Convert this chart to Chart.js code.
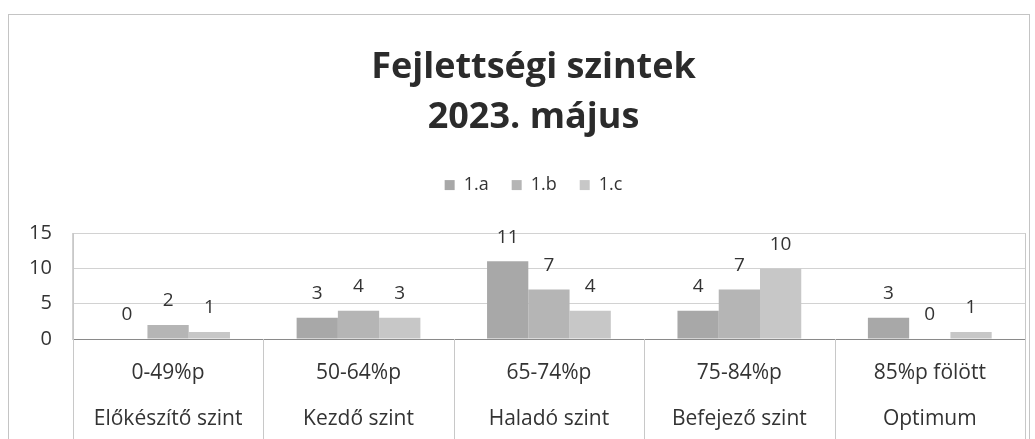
<!DOCTYPE html>
<html>
<head>
<meta charset="utf-8">
<script src="https://cdn.jsdelivr.net/npm/chart.js@4.4.0/dist/chart.umd.min.js"></script>
<style>
  html, body { margin: 0; padding: 0; background: #fff; }
  #wrap { width: 1035px; height: 439px; }
</style>
</head>
<body>
<div id="wrap"><canvas id="chart" width="1035" height="439"></canvas></div>
<script>
// Data
var levels = ["0-49%p", "50-64%p", "65-74%p", "75-84%p", "85%p fölött"];
var levelNames = ["Előkészítő szint", "Kezdő szint", "Haladó szint", "Befejező szint", "Optimum"];
var class1a = [0, 3, 11, 4, 3];
var class1b = [2, 4, 7, 7, 0];
var class1c = [1, 3, 4, 10, 1];
var yTicks = [0, 5, 10, 15];

var labels = levels.map(function (l, i) { return [l, levelNames[i]]; });

Chart.defaults.font.family = "'Open Sans', sans-serif";
Chart.defaults.color = "#333";

// frame + white background
var framePlugin = {
  id: "frame",
  beforeDraw: function (chart) {
    var c = chart.ctx;
    c.save();
    c.fillStyle = "#fff";
    c.fillRect(0, 0, chart.width, chart.height);
    c.strokeStyle = "#c4c4c4";
    c.lineWidth = 1;
    c.strokeRect(8.5, 14.5, chart.width - 14, chart.height + 20);
    c.restore();
  }
};

// category separators below the axis
var separatorPlugin = {
  id: "separators",
  afterDraw: function (chart) {
    var x = chart.scales.x, area = chart.chartArea, c = chart.ctx;
    var n = levels.length;
    var half = (x.getPixelForValue(1) - x.getPixelForValue(0)) / 2;
    c.save();
    c.strokeStyle = "#c8c8c8";
    c.lineWidth = 1;
    for (var i = 0; i <= n; i++) {
      var px = Math.round(x.getPixelForValue(i) - half) + 0.5;
      var top = (i === 0 || i === n) ? area.top : area.bottom;
      c.beginPath();
      c.moveTo(px, top);
      c.lineTo(px, chart.height);
      c.stroke();
    }
    c.restore();
  }
};

// value labels above bars
var valuePlugin = {
  id: "values",
  afterDatasetsDraw: function (chart) {
    var c = chart.ctx;
    c.save();
    c.font = "19px 'Open Sans', sans-serif";
    c.fillStyle = "#333";
    c.textAlign = "center";
    c.textBaseline = "middle";
    chart.data.datasets.forEach(function (ds, di) {
      chart.getDatasetMeta(di).data.forEach(function (bar, i) {
        c.fillText(ds.data[i], bar.x, bar.y - 24);
      });
    });
    c.restore();
  }
};

// extra space under the legend, title + legend sit a bit right of centre
var legendGap = {
  id: "legendGap",
  beforeInit: function (chart) {
    var fit = chart.legend.fit;
    chart.legend.fit = function () {
      fit.bind(chart.legend)();
      this.height += 29;
    };
    [chart.titleBlock, chart.legend].forEach(function (box) {
      var draw = box.draw;
      box.draw = function () {
        this.ctx.save();
        this.ctx.translate(17, 0);
        draw.apply(this, arguments);
        this.ctx.restore();
      };
    });
  }
};

new Chart(document.getElementById("chart"), {
  type: "bar",
  data: {
    labels: labels,
    datasets: [
      { label: "1.a", data: class1a, backgroundColor: "#a8a8a8" },
      { label: "1.b", data: class1b, backgroundColor: "#b5b5b5" },
      { label: "1.c", data: class1c, backgroundColor: "#c7c7c7" }
    ]
  },
  options: {
    responsive: false,
    animation: false,
    layout: { padding: { top: 20, left: 8, right: 10, bottom: -14 } },
    datasets: { bar: { barPercentage: 1, categoryPercentage: 0.65 } },
    plugins: {
      title: {
        display: true,
        text: ["Fejlettségi szintek", "2023. május"],
        font: { size: 36, weight: "bold", lineHeight: 1.39 },
        color: "#2b2b2b",
        padding: { top: 23, bottom: 10 }
      },
      legend: {
        labels: { boxWidth: 10, boxHeight: 10, font: { size: 18 }, padding: 23 }
      },
      tooltip: { enabled: false }
    },
    scales: {
      x: {
        grid: { display: false, drawTicks: false },
        border: { display: false },
        ticks: { font: { size: 21, lineHeight: 2.19 }, padding: 11, maxRotation: 0, autoSkip: false }
      },
      y: {
        min: 0,
        max: 15,
        afterBuildTicks: function (axis) {
          axis.ticks = yTicks.map(function (v) { return { value: v }; });
        },
        grid: {
          drawTicks: false,
          color: function (ctx) { return ctx.tick && ctx.tick.value === 0 ? "#8a8a8a" : "#d2d2d2"; }
        },
        border: { display: true, color: "#d2d2d2" },
        ticks: { font: { size: 20 }, padding: 21 }
      }
    }
  },
  plugins: [framePlugin, separatorPlugin, valuePlugin, legendGap]
});
</script>
</body>
</html>
